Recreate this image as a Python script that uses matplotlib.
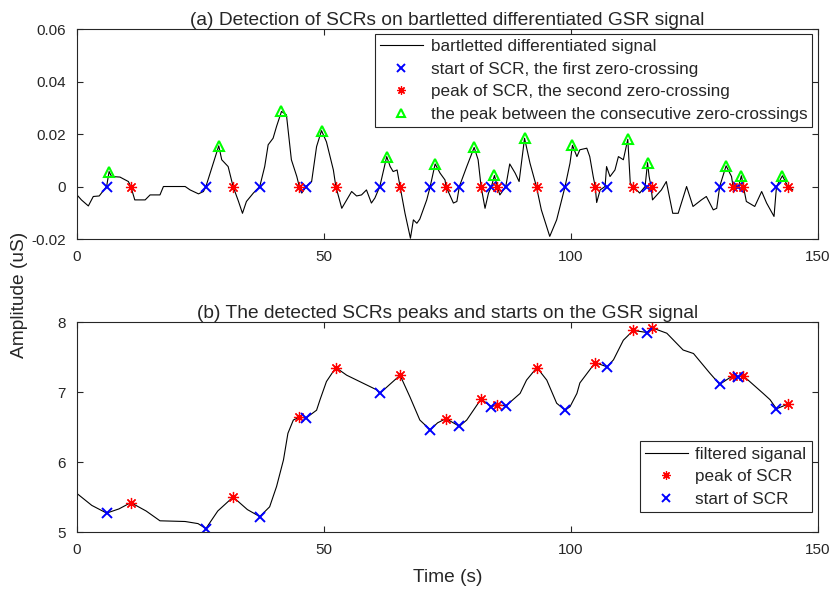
import numpy as np
import matplotlib
matplotlib.use('Agg')
import matplotlib.pyplot as plt

plt.rcParams['font.family'] = ['Liberation Sans', 'DejaVu Sans']

# (a) bartletted differentiated signal
t_diff = [0.0, 0.9, 2.3, 3.3, 4.5, 6.0, 6.5, 7.0, 8.7, 10.4, 10.9, 11.7, 13.8, 14.8, 16.8,
          17.5, 21.9, 22.9, 24.6, 25.6, 26.1, 28.7, 29.3, 30.6, 31.6, 32.7, 33.5, 34.3, 35.7,
          37.0, 38.0, 38.7, 39.7, 40.4, 41.4, 42.4, 43.4, 44.5, 45.0, 45.5, 46.4, 47.5, 48.5,
          49.5, 50.5, 51.9, 52.4, 53.6, 54.6, 55.6, 56.6, 57.6, 58.6, 59.6, 60.3, 61.3, 62.7,
          63.4, 64.0, 64.8, 65.4, 66.4, 67.5, 68.1, 68.8, 69.4, 70.8, 71.5, 72.5, 73.5, 74.5,
          74.7, 76.2, 76.9, 77.4, 78.9, 80.4, 81.2, 81.8, 82.6, 83.3, 83.9, 84.5, 85.1, 85.6,
          86.8, 87.6, 88.7, 89.5, 90.6, 91.7, 93.0, 94.0, 95.7, 97.1, 98.8, 99.8, 100.3, 101.2,
          101.8, 103.2, 103.8, 104.5, 104.9, 105.2, 105.9, 106.9, 107.2, 107.9, 108.9, 109.6,
          110.6, 111.5, 112.0, 112.6, 113.9, 115.0, 115.5, 115.8, 116.2, 116.5, 118.3, 119.3,
          120.6, 121.7, 123.4, 124.7, 126.4, 127.4, 128.8, 129.5, 130.1, 131.4, 132.5, 132.8,
          133.9, 134.5, 134.9, 135.5, 137.2, 138.6, 139.6, 141.1, 141.6, 142.8, 143.9, 144.9]
v_diff = [-0.0032, -0.0051, -0.0074, -0.0038, -0.0036, 0.0, 0.0057, 0.0038, 0.0036, 0.0019,
          0.0, -0.0051, -0.0051, -0.0032, -0.0032, 0.0, 0.0, -0.0013, -0.0028, -0.0019, 0.0,
          0.0155, 0.0102, 0.0076, 0.0, -0.0057, -0.0102, -0.0057, -0.0025, 0.0, 0.0076, 0.0159,
          0.0184, 0.0229, 0.0286, 0.0273, 0.0102, 0.0038, 0.0, -0.0025, 0.0, 0.0019, 0.0152,
          0.0213, 0.0170, 0.0063, 0.0, -0.0083, -0.0051, -0.0019, -0.0036, -0.0032, -0.0013,
          -0.0063, -0.0044, 0.0, 0.0114, 0.0076, 0.0057, 0.0063, 0.0, -0.0102, -0.0197, -0.0127,
          -0.0140, -0.0124, -0.0051, 0.0, 0.0086, 0.0051, 0.0025, 0.0, -0.0063, -0.0057, 0.0,
          0.0076, 0.0149, 0.0102, 0.0, -0.0083, -0.0025, 0.0, 0.0042, 0.0, -0.0032, 0.0, 0.0086,
          0.0051, 0.0019, 0.0184, 0.0089, 0.0, -0.0089, -0.0190, -0.0127, 0.0, 0.0089, 0.0157,
          0.0114, 0.0140, 0.0146, 0.0114, 0.0038, 0.0, -0.0061, -0.0013, 0.0, 0.0076, 0.0038,
          0.0063, 0.0114, 0.0102, 0.0180, 0.0013, 0.0, -0.0025, 0.0, 0.0091, 0.0040, 0.0, -0.0051,
          -0.0013, 0.0019, -0.0102, -0.0102, 0.0, -0.0076, -0.0051, -0.0038, -0.0089, -0.0083,
          0.0, 0.0079, 0.0038, 0.0, 0.0, 0.0041, 0.0, -0.0057, -0.0076, -0.0019, -0.0063,
          -0.0114, 0.0, 0.0041, 0.0, -0.0013]

# SCR starts / peaks (time, s) and their filtered-signal amplitudes
t_start = [6.0, 26.1, 37.0, 46.4, 61.3, 71.5, 77.4, 83.9, 86.8, 98.8, 107.3, 115.4, 130.1, 133.9, 141.6]
t_peak = [10.9, 31.6, 45.0, 52.4, 65.4, 74.7, 81.8, 85.1, 93.1, 104.9, 112.6, 116.3, 132.7, 134.9, 144.0]
a_start = [5.27, 5.05, 5.22, 6.63, 6.98, 6.46, 6.51, 6.79, 6.80, 6.74, 7.36, 7.85, 7.11, 7.22, 6.76]
a_peak = [5.42, 5.50, 6.64, 7.35, 7.24, 6.62, 6.90, 6.82, 7.35, 7.42, 7.88, 7.92, 7.23, 7.23, 6.83]

# peaks between consecutive zero-crossings
t_tri = [6.5, 28.7, 41.4, 49.5, 62.7, 72.5, 80.4, 84.5, 90.6, 100.3, 111.5, 115.5, 131.4, 134.5, 142.8]
v_tri = [0.0057, 0.0155, 0.0286, 0.0213, 0.0114, 0.0086, 0.0149, 0.0042, 0.0184, 0.0157,
         0.0180, 0.0091, 0.0079, 0.0041, 0.0041]

# (b) filtered GSR signal, key points
t_gsr = [0.0, 3.0, 6.0, 8.5, 10.9, 14.0, 16.8, 21.9, 24.5, 26.1, 28.5, 31.6, 34.5, 37.0, 39.0,
         40.4, 41.8, 42.7, 43.8, 45.0, 46.4, 48.5, 49.2, 50.5, 52.4, 54.6, 60.7, 61.3, 63.5, 65.4,
         67.4, 69.4, 71.5, 73.0, 74.7, 77.4, 78.9, 81.8, 83.9, 85.1, 86.8, 89.7, 91.0, 93.1, 95.1,
         97.1, 98.8, 99.8, 101.2, 101.8, 104.9, 107.3, 108.6, 110.6, 112.6, 115.4, 116.3, 119.4,
         122.7, 124.8, 128.1, 130.1, 132.7, 133.9, 134.9, 138.9, 140.3, 141.6, 144.0]
a_gsr = [5.55, 5.38, 5.27, 5.33, 5.42, 5.30, 5.16, 5.15, 5.12, 5.05, 5.30, 5.50, 5.32, 5.22, 5.36,
         5.65, 6.03, 6.41, 6.60, 6.64, 6.63, 6.74, 6.89, 7.15, 7.35, 7.24, 7.03, 6.98, 7.12, 7.24,
         6.93, 6.60, 6.46, 6.56, 6.62, 6.51, 6.60, 6.90, 6.79, 6.82, 6.80, 6.98, 7.17, 7.35, 7.17,
         6.84, 6.74, 6.79, 6.98, 7.13, 7.42, 7.36, 7.46, 7.74, 7.88, 7.85, 7.92, 7.84, 7.60, 7.55,
         7.27, 7.11, 7.23, 7.22, 7.23, 6.98, 6.89, 6.76, 6.83]

txt = '#262626'
plt.rcParams['text.color'] = txt
plt.rcParams['axes.edgecolor'] = txt
plt.rcParams['xtick.color'] = txt
plt.rcParams['ytick.color'] = txt

fig = plt.figure(figsize=(8.34, 5.90), dpi=100)
ax1 = fig.add_axes([0.0923, 0.5949, 0.8885, 0.3559])
ax2 = fig.add_axes([0.0923, 0.0983, 0.8885, 0.3559])

fs = 10.5
lfs = 12.3
tfs = 13.8
star = (8, 2, 0)
leg_kw = dict(fontsize=lfs, frameon=True, fancybox=False, edgecolor=txt, handlelength=2.5,
              borderaxespad=0, labelspacing=0.44, handletextpad=0.45, borderpad=0.3,
              framealpha=1, markerscale=0.75)

ax1.plot(t_diff, v_diff, color='k', lw=0.8, label='bartletted differentiated signal')
ax1.plot(t_start, np.zeros(len(t_start)), 'x', color='#0000ff', ms=7, mew=1.4, ls='none',
         label='start of SCR, the first zero-crossing')
ax1.plot(t_peak, np.zeros(len(t_peak)), ls='none', marker=star, color='#ff0000', ms=8, mew=0.9,
         label='peak of SCR, the second zero-crossing')
ax1.plot(t_tri, v_tri, '^', ls='none', mfc='none', mec='#00ff00', ms=7.5, mew=1.5,
         label='the peak between the consecutive zero-crossings')
ax1.set_xlim(0, 150)
ax1.set_ylim(-0.02, 0.06)
ax1.set_xticks([0, 50, 100, 150])
ax1.set_yticks([-0.02, 0, 0.02, 0.04, 0.06])
ax1.set_yticklabels(['-0.02', '0', '0.02', '0.04', '0.06'])
ax1.set_title('(a) Detection of SCRs on bartletted differentiated GSR signal', fontsize=tfs, pad=3)
lg = ax1.legend(loc='upper right', bbox_to_anchor=(0.9923, 0.976), **leg_kw)
lg.get_frame().set_linewidth(0.8)

ax2.plot(t_gsr, a_gsr, color='k', lw=0.8, label='filtered siganal')
ax2.plot(t_peak, a_peak, ls='none', marker=star, color='#ff0000', ms=8, mew=0.9, label='peak of SCR')
ax2.plot(t_start, a_start, 'x', color='#0000ff', ms=7, mew=1.4, ls='none', label='start of SCR')
ax2.set_xlim(0, 150)
ax2.set_ylim(5, 8)
ax2.set_xticks([0, 50, 100, 150])
ax2.set_yticks([5, 6, 7, 8])
ax2.set_title('(b) The detected SCRs peaks and starts on the GSR signal', fontsize=tfs, pad=3)
lg = ax2.legend(loc='lower right', bbox_to_anchor=(0.9915, 0.0967), **leg_kw)
lg.get_frame().set_linewidth(0.8)

for ax in (ax1, ax2):
    ax.tick_params(direction='in', length=4, width=0.8, top=True, right=True, labelsize=fs + 0.5, pad=8)
    for s in ax.spines.values():
        s.set_linewidth(0.8)

fig.text(0.023, 0.5, 'Amplitude (uS)', rotation=90, ha='center', va='center', fontsize=tfs)
fig.text(0.5366, 1 - 577 / 590, 'Time (s)', ha='center', va='center', fontsize=tfs)

fig.savefig('out.png', dpi=100)
